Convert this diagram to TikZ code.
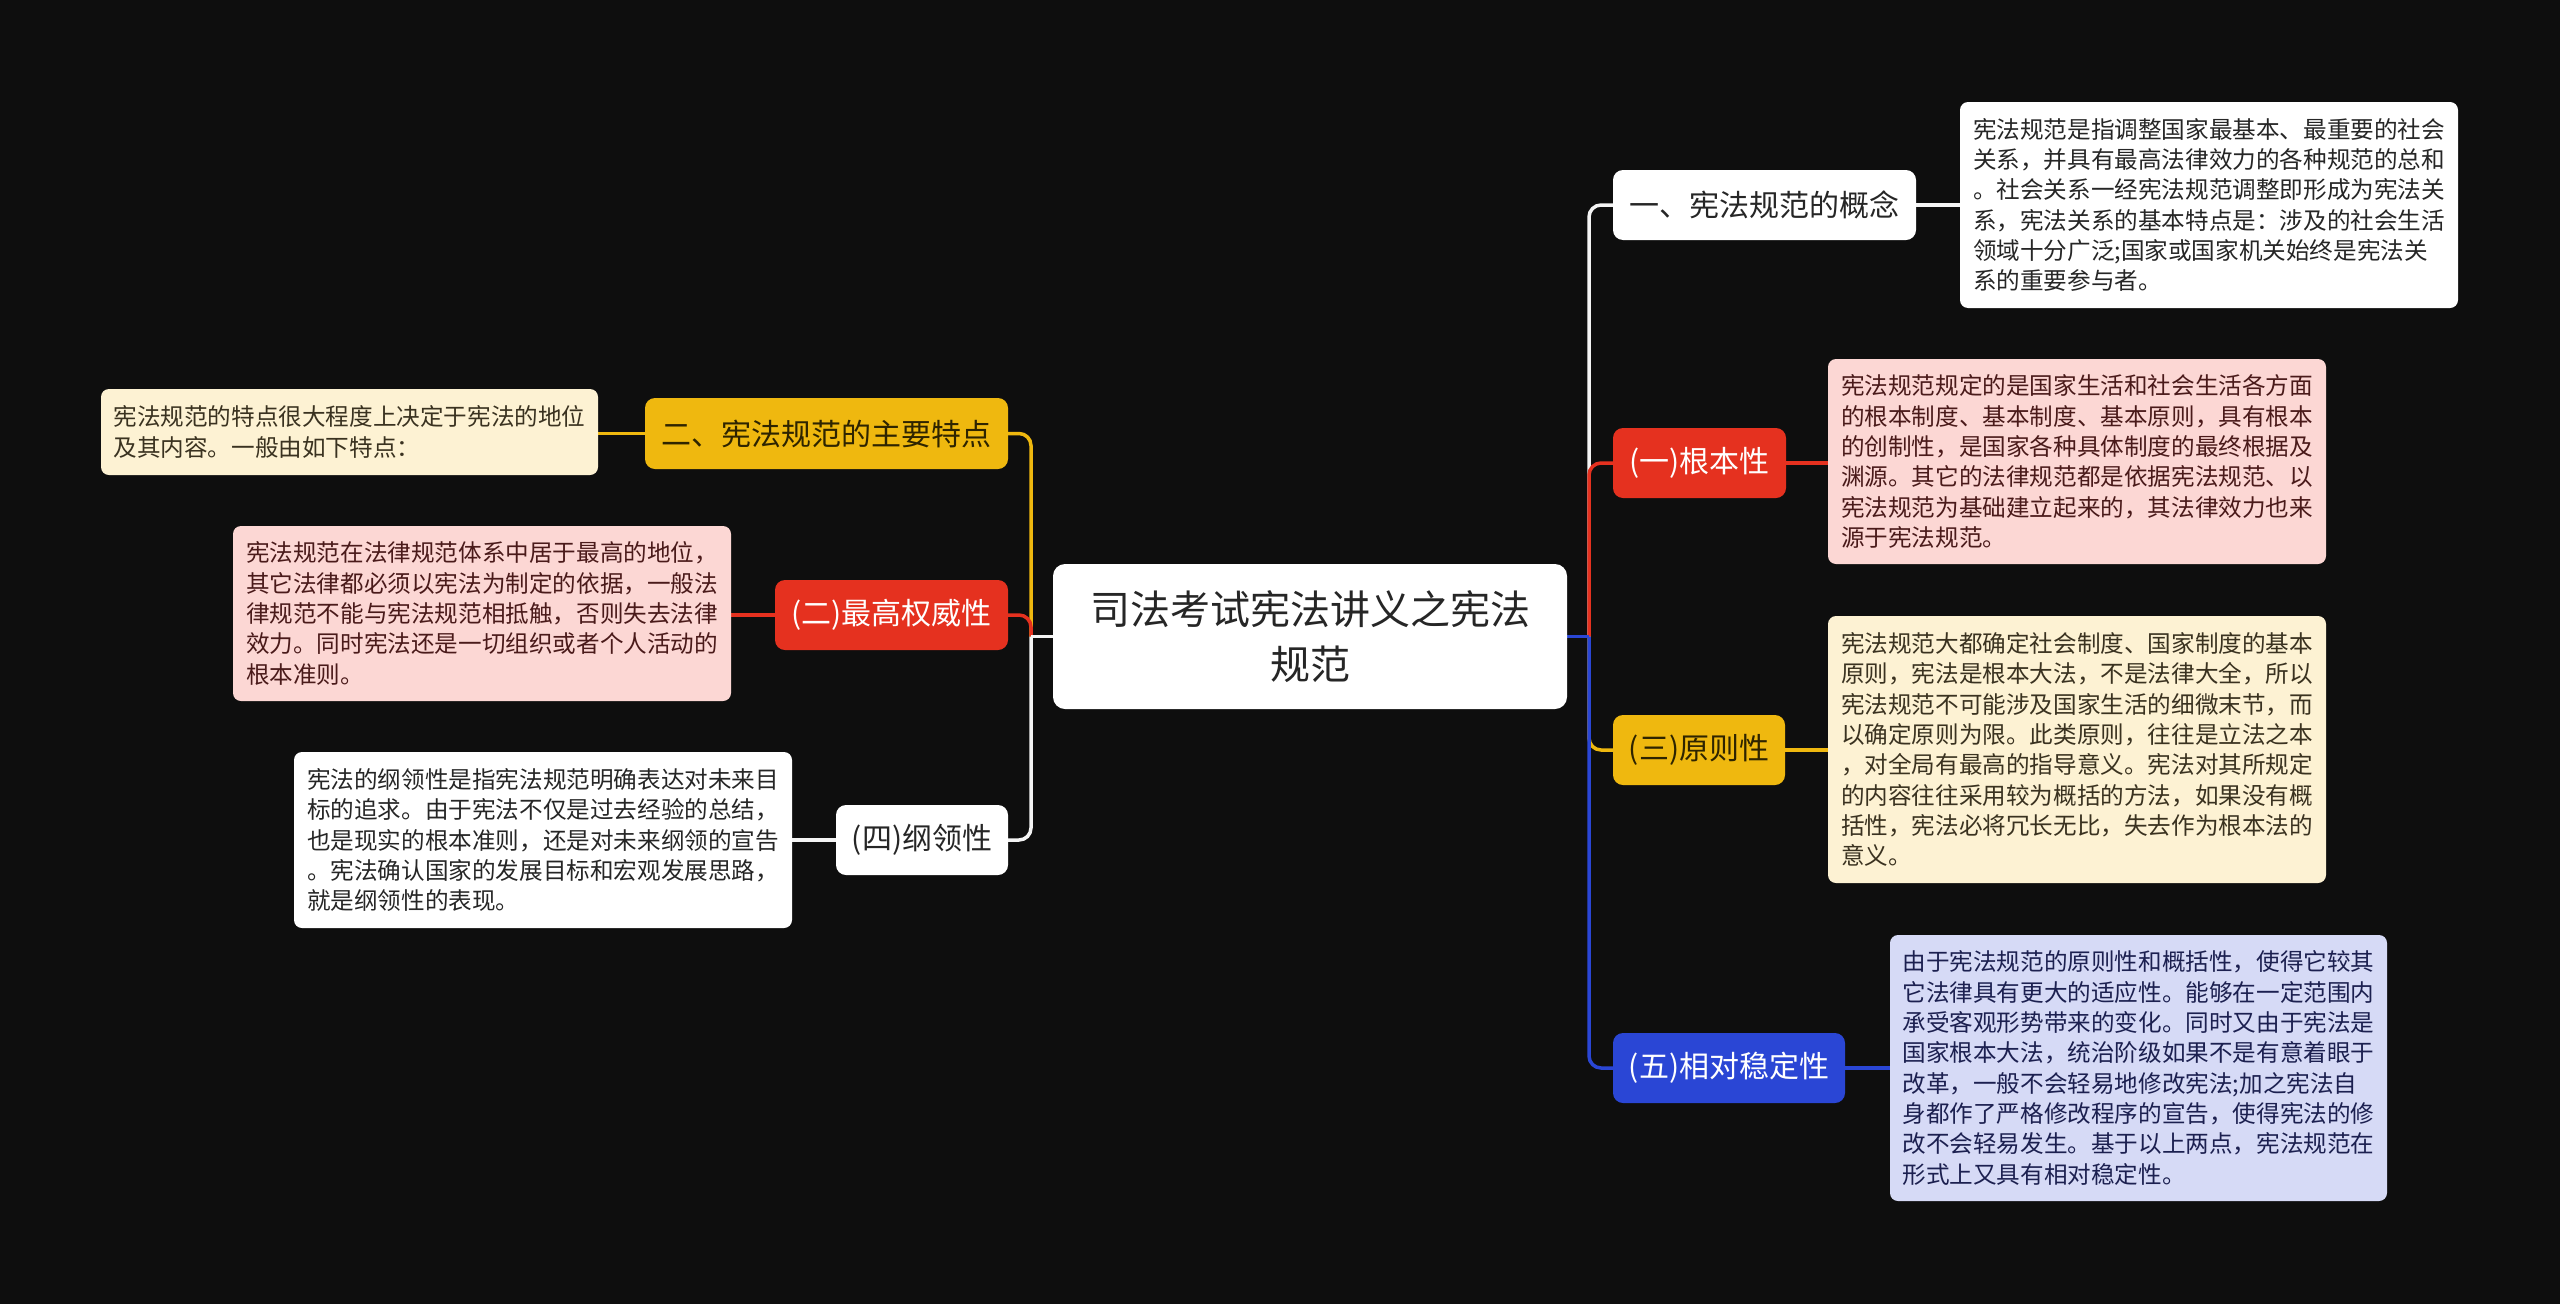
\documentclass[tikz,border=0pt]{standalone}
\usepackage{fontspec}
\newfontfamily\cjk{Noto Sans CJK SC}
\pgfdeclarelayer{back}
\pgfdeclarelayer{edges}
\pgfsetlayers{back,edges,main}
\definecolor{bgc}{HTML}{0E0E0E}
\definecolor{cred}{HTML}{E5311F}
\definecolor{cyel}{HTML}{EFB80F}
\definecolor{cblue}{HTML}{2A46D5}
\definecolor{cwhite}{HTML}{F4F4F4}
\definecolor{cpink}{HTML}{FCD7D4}
\definecolor{ccream}{HTML}{FDF2D3}
\definecolor{clav}{HTML}{D6DAF6}
\definecolor{tdark}{HTML}{262626}
\definecolor{tpink}{HTML}{4A1A1A}
\definecolor{tcream}{HTML}{3A3220}
\definecolor{tlav}{HTML}{1C2050}
\definecolor{tyel}{HTML}{2E2400}
\begin{document}
\begin{tikzpicture}[x=1pt,y=-1pt,
  detail/.style={rounded corners=8pt, inner sep=0pt, align=left,
    font=\cjk\fontsize{23.6pt}{30.3pt}\selectfont},
  topic/.style={rounded corners=10pt, inner sep=0pt, align=center,
    minimum height=70pt, font=\cjk\fontsize{30pt}{36pt}\selectfont},
  rootbox/.style={rounded corners=12pt, inner sep=0pt, align=center,
    fill=white, text=tdark, font=\cjk\fontsize{40pt}{55pt}\selectfont},
  link/.style={line width=3.5pt},
  elbow/.style={line width=3.5pt, rounded corners=12pt}
]
\begin{pgfonlayer}{back}
\fill[bgc] (0,0) rectangle (2560,1304);
\end{pgfonlayer}

% root
\node[rootbox, minimum width=514pt, minimum height=145pt] (root) at (1310,636.5)
  {司法考试宪法讲义之宪法\\规范};
\coordinate (tr) at (1589,636.5);
\coordinate (tl) at (1031,636.5);

% right topics
\node[topic, fill=white, text=tdark, minimum width=303pt] (n1) at (1764.5,205) {一、宪法规范的概念};
\node[topic, fill=cred, text=white, minimum width=173pt] (n2) at (1699.5,463) {(一)根本性};
\node[topic, fill=cyel, text=tyel, minimum width=172pt] (n3) at (1699,750) {(三)原则性};
\node[topic, fill=cblue, text=white, minimum width=232pt] (n5) at (1729,1068) {(五)相对稳定性};

% right details
\node[detail, fill=white, text=tdark, minimum width=498pt, minimum height=206pt] (d1) at (2209,205)
 {宪法规范是指调整国家最基本、最重要的社会\\
  关系，并具有最高法律效力的各种规范的总和\\
  。社会关系一经宪法规范调整即形成为宪法关\\
  系，宪法关系的基本特点是：涉及的社会生活\\
  领域十分广泛;国家或国家机关始终是宪法关\\
  系的重要参与者。};
\node[detail, fill=cpink, text=tpink, minimum width=498pt, minimum height=205pt] (d2) at (2077,461.5)
 {宪法规范规定的是国家生活和社会生活各方面\\
  的根本制度、基本制度、基本原则，具有根本\\
  的创制性，是国家各种具体制度的最终根据及\\
  渊源。其它的法律规范都是依据宪法规范、以\\
  宪法规范为基础建立起来的，其法律效力也来\\
  源于宪法规范。};
\node[detail, fill=ccream, text=tcream, minimum width=498pt, minimum height=267pt] (d3) at (2077,749.5)
 {宪法规范大都确定社会制度、国家制度的基本\\
  原则，宪法是根本大法，不是法律大全，所以\\
  宪法规范不可能涉及国家生活的细微末节，而\\
  以确定原则为限。此类原则，往往是立法之本\\
  ，对全局有最高的指导意义。宪法对其所规定\\
  的内容往往采用较为概括的方法，如果没有概\\
  括性，宪法必将冗长无比，失去作为根本法的\\
  意义。};
\node[detail, fill=clav, text=tlav, minimum width=497pt, minimum height=266pt] (d5) at (2138.5,1068)
 {由于宪法规范的原则性和概括性，使得它较其\\
  它法律具有更大的适应性。能够在一定范围内\\
  承受客观形势带来的变化。同时又由于宪法是\\
  国家根本大法，统治阶级如果不是有意着眼于\\
  改革，一般不会轻易地修改宪法;加之宪法自\\
  身都作了严格修改程序的宣告，使得宪法的修\\
  改不会轻易发生。基于以上两点，宪法规范在\\
  形式上又具有相对稳定性。};

% left topics
\node[topic, fill=cyel, text=tyel, minimum width=363pt, minimum height=71pt] (l1) at (826.5,433.5) {二、宪法规范的主要特点};
\node[topic, fill=cred, text=white, minimum width=233pt] (l2) at (891.5,615) {(二)最高权威性};
\node[topic, fill=white, text=tdark, minimum width=172pt] (l4) at (922,840) {(四)纲领性};

% left details
\node[detail, fill=ccream, text=tcream, minimum width=497pt, minimum height=86pt] (ld1) at (349.5,432)
 {宪法规范的特点很大程度上决定于宪法的地位\\
  及其内容。一般由如下特点：};
\node[detail, fill=cpink, text=tpink, minimum width=498pt, minimum height=175pt] (ld2) at (482,613.5)
 {宪法规范在法律规范体系中居于最高的地位，\\
  其它法律都必须以宪法为制定的依据，一般法\\
  律规范不能与宪法规范相抵触，否则失去法律\\
  效力。同时宪法还是一切组织或者个人活动的\\
  根本准则。};
\node[detail, fill=white, text=tdark, minimum width=498pt, minimum height=176pt] (ld4) at (543,840)
 {宪法的纲领性是指宪法规范明确表达对未来目\\
  标的追求。由于宪法不仅是过去经验的总结，\\
  也是现实的根本准则，还是对未来纲领的宣告\\
  。宪法确认国家的发展目标和宏观发展思路，\\
  就是纲领性的表现。};

\begin{pgfonlayer}{edges}
% right branches
\draw[elbow, cwhite] (tr) -- (tr |- n1.west) -- (n1.west);
\draw[elbow, cyel] (tr) -- (tr |- n3.west) -- (n3.west);
\draw[elbow, cred] (tr) -- (tr |- n2.west) -- (n2.west);
\draw[elbow, cblue] (tr) -- (tr |- n5.west) -- (n5.west);
\draw[link, cblue] (root.east) -- (tr);
\draw[link, cwhite] (n1.east) -- (n1.east -| d1.west);
\draw[link, cred] (n2.east) -- (n2.east -| d2.west);
\draw[link, cyel] (n3.east) -- (n3.east -| d3.west);
\draw[link, cblue] (n5.east) -- (n5.east -| d5.west);
% left branches
\draw[elbow, cyel] (tl) -- (tl |- l1.east) -- (l1.east);
\draw[elbow, cred] (tl) -- (tl |- l2.east) -- (l2.east);
\draw[elbow, cwhite] (tl) -- (tl |- l4.east) -- (l4.east);
\draw[link, cwhite] (root.west) -- (tl);
\draw[link, cyel] (l1.west) -- (l1.west -| ld1.east);
\draw[link, cred] (l2.west) -- (l2.west -| ld2.east);
\draw[link, cwhite] (l4.west) -- (l4.west -| ld4.east);
\end{pgfonlayer}
\end{tikzpicture}
\end{document}
